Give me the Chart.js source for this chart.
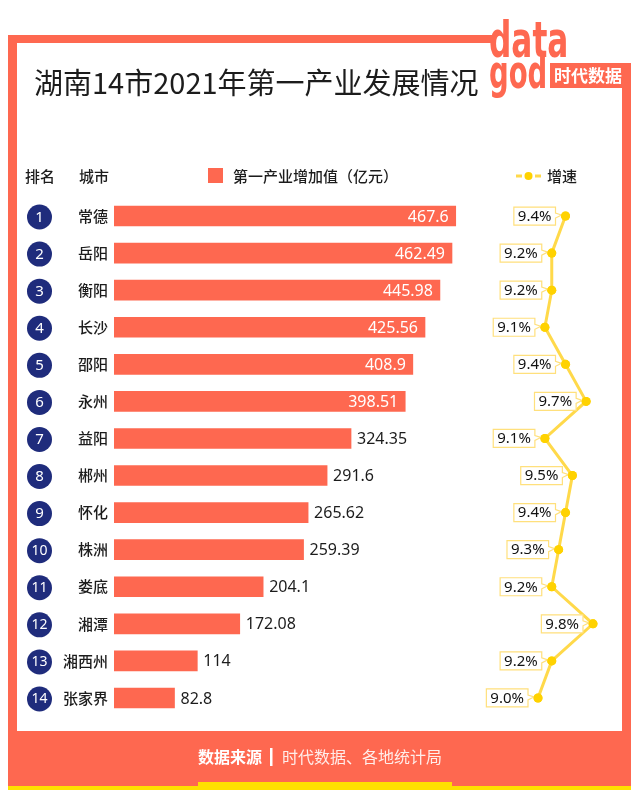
<!DOCTYPE html>
<html>
<head>
<meta charset="utf-8">
<script src="https://cdn.jsdelivr.net/npm/chart.js@4/dist/chart.umd.min.js"></script>
<style>
  html,body{margin:0;padding:0;background:#fff;}
  canvas{display:block;}
</style>
</head>
<body>
<canvas id="c" width="640" height="804"></canvas>
<script>
// ---- data ----
const cities = ['常德','岳阳','衡阳','长沙','邵阳','永州','益阳','郴州','怀化','株洲','娄底','湘潭','湘西州','张家界'];
const ranks = ['1','2','3','4','5','6','7','8','9','10','11','12','13','14'];
const addedValue = [467.6, 462.49, 445.98, 425.56, 408.9, 398.51, 324.35, 291.6, 265.62, 259.39, 204.1, 172.08, 114, 82.8];
const growthRate = [9.4, 9.2, 9.2, 9.1, 9.4, 9.7, 9.1, 9.5, 9.4, 9.3, 9.2, 9.8, 9.2, 9.0];

const titleText = '湖南14市2021年第一产业发展情况';
const legendBar = '第一产业增加值（亿元）';
const legendLine = '增速';
const headRank = '排名';
const headCity = '城市';
const sourceLabel = '数据来源';
const sourceText = '时代数据、各地统计局';

// ---- styles ----
const ORANGE = '#FE6850';
const NAVY = '#1F2C7C';
const YELLOW_LINE = '#FFD94A';
const YELLOW_PT = '#FFD200';
const YELLOW_BOX = '#FFE07C';
const DARK = '#1c1c1c';
const CJK = '"Noto Sans CJK SC","Noto Sans",sans-serif';
const NUM = '"Noto Sans","Open Sans",sans-serif';

const decor = {
  id: 'decor',
  beforeDraw(chart) {
    const ctx = chart.ctx;
    ctx.save();
    ctx.fillStyle = '#fff';
    ctx.fillRect(0, 0, 640, 804);
    // frame
    ctx.fillStyle = ORANGE;
    ctx.fillRect(8, 35, 9, 752);      // left band
    ctx.fillRect(8, 35, 484, 8);      // top band
    ctx.fillRect(622, 63, 9, 724);    // right band
    ctx.fillRect(8, 731, 623, 56);    // footer
    ctx.fillStyle = '#FFE000';
    ctx.fillRect(8, 786, 623, 4);
    ctx.fillRect(198, 782, 254, 8);

    // title
    ctx.fillStyle = DARK;
    ctx.font = '400 29px ' + CJK;
    ctx.textBaseline = 'middle';
    ctx.textAlign = 'left';
    ctx.fillText(titleText, 34, 83);

    // logo
    ctx.fillStyle = ORANGE;
    ctx.font = 'bold 34px "DejaVu Sans Condensed","DejaVu Sans",sans-serif';
    ctx.textBaseline = 'alphabetic';
    ctx.save();
    ctx.translate(489, 57);
    ctx.scale(1.02, 1.45);
    ctx.fillText('data', 0, 0);
    ctx.restore();
    ctx.save();
    ctx.translate(489, 88);
    ctx.scale(0.9, 1.35);
    ctx.fillText('god', 0, 0);
    ctx.restore();
    ctx.fillRect(550, 63, 81, 25);
    ctx.fillStyle = '#fff';
    ctx.font = 'bold 17px ' + CJK;
    ctx.textBaseline = 'middle';
    ctx.textAlign = 'center';
    ctx.fillText('时代数据', 588, 76);

    // header row
    ctx.fillStyle = DARK;
    ctx.font = '500 15px ' + CJK;
    ctx.textAlign = 'left';
    ctx.fillText(headRank, 25, 176);
    ctx.textAlign = 'right';
    ctx.fillText(headCity, 109, 176);
    ctx.textAlign = 'left';
    ctx.fillStyle = ORANGE;
    ctx.fillRect(208, 168, 15, 15);
    ctx.fillStyle = DARK;
    ctx.fillText(legendBar, 233, 176);
    ctx.strokeStyle = YELLOW_LINE;
    ctx.lineWidth = 3;
    ctx.beginPath();
    ctx.moveTo(516, 176); ctx.lineTo(522, 176);
    ctx.moveTo(535, 176); ctx.lineTo(541, 176);
    ctx.stroke();
    ctx.fillStyle = YELLOW_PT;
    ctx.beginPath(); ctx.arc(528.5, 176, 4, 0, Math.PI * 2); ctx.fill();
    ctx.fillStyle = DARK;
    ctx.fillText(legendLine, 547, 176);

    // footer text
    ctx.font = 'bold 16px ' + CJK;
    const w1 = ctx.measureText(sourceLabel).width;
    ctx.font = '400 16px ' + CJK;
    const w2 = ctx.measureText(sourceText).width;
    const gap = 20;
    const total = w1 + gap + w2;
    let x0 = 320 - total / 2;
    ctx.textAlign = 'left';
    ctx.fillStyle = '#fff';
    ctx.font = 'bold 16px ' + CJK;
    ctx.fillText(sourceLabel, x0, 757);
    ctx.fillRect(x0 + w1 + 8, 748, 2.5, 18);
    ctx.fillStyle = 'rgba(255,255,255,0.88)';
    ctx.font = '400 16px ' + CJK;
    ctx.fillText(sourceText, x0 + w1 + gap, 757);
    ctx.restore();
  },
  afterDatasetsDraw(chart) {
    const ctx = chart.ctx;
    ctx.save();
    // bar value labels + rank circles
    const barMeta = chart.getDatasetMeta(0);
    barMeta.data.forEach((bar, i) => {
      const v = addedValue[i];
      ctx.font = '400 16px ' + NUM;
      ctx.textBaseline = 'middle';
      if (v > 350) {
        ctx.fillStyle = '#fff';
        ctx.textAlign = 'right';
        ctx.fillText(String(v), bar.x - 7, bar.y + 1);
      } else {
        ctx.fillStyle = DARK;
        ctx.textAlign = 'left';
        ctx.fillText(String(v), bar.x + 6, bar.y + 1);
      }
      // rank circle
      ctx.fillStyle = NAVY;
      ctx.beginPath();
      ctx.arc(39.5, bar.y + 1, 12.5, 0, Math.PI * 2);
      ctx.fill();
      ctx.fillStyle = '#fff';
      ctx.textAlign = 'center';
      ctx.font = (ranks[i].length > 1 ? '400 14px ' : '400 15px ') + NUM;
      ctx.fillText(ranks[i], 39.5, bar.y + 1.5);
    });
    // growth labels
    const lineMeta = chart.getDatasetMeta(1);
    lineMeta.data.forEach((pt, i) => {
      const txt = growthRate[i].toFixed(1) + '%';
      ctx.font = '400 15px ' + NUM;
      const tw = ctx.measureText(txt).width;
      const bw = tw + 8, bh = 18;
      const right = pt.x - 10;
      const left = right - bw;
      const top = pt.y - bh / 2;
      const bottom = top + bh;
      ctx.fillStyle = '#fff';
      ctx.strokeStyle = YELLOW_BOX;
      ctx.lineWidth = 1.2;
      ctx.beginPath();
      ctx.moveTo(left, top);
      ctx.lineTo(right, top);
      ctx.lineTo(right, pt.y - 3);
      ctx.lineTo(pt.x - 4, pt.y - 1);
      ctx.lineTo(right, pt.y + 2);
      ctx.lineTo(right, bottom);
      ctx.lineTo(left, bottom);
      ctx.closePath();
      ctx.fill();
      ctx.stroke();
      ctx.fillStyle = '#111';
      ctx.textAlign = 'center';
      ctx.textBaseline = 'middle';
      ctx.fillText(txt, left + bw / 2, pt.y + 0.5);
    });
    // redraw points on top
    lineMeta.data.forEach(pt => {
      ctx.fillStyle = YELLOW_PT;
      ctx.beginPath();
      ctx.arc(pt.x, pt.y, 4.5, 0, Math.PI * 2);
      ctx.fill();
    });
    ctx.restore();
  }
};

new Chart(document.getElementById('c'), {
  type: 'bar',
  data: {
    labels: cities,
    datasets: [
      {
        type: 'bar',
        label: legendBar,
        data: addedValue,
        backgroundColor: ORANGE,
        borderWidth: 0,
        barThickness: 20,
        xAxisID: 'x',
        yAxisID: 'y',
        order: 2
      },
      {
        type: 'line',
        label: legendLine,
        data: growthRate,
        indexAxis: 'y',
        xAxisID: 'x2',
        yAxisID: 'y',
        borderColor: YELLOW_LINE,
        borderWidth: 3,
        pointRadius: 4.5,
        pointBackgroundColor: YELLOW_PT,
        pointBorderWidth: 0,
        fill: false,
        tension: 0,
        order: 1
      }
    ]
  },
  options: {
    indexAxis: 'y',
    responsive: false,
    devicePixelRatio: 1,
    animation: false,
    layout: { padding: { left: 0, top: 197.5, right: 30, bottom: 87.5 } },
    plugins: { legend: { display: false }, tooltip: { enabled: false } },
    scales: {
      y: {
        type: 'category',
        position: 'left',
        grid: { display: false, drawTicks: false },
        border: { display: false },
        ticks: { padding: 6, color: DARK, font: { family: CJK, size: 15, weight: '500' } },
        afterFit(scale) { scale.width = 114; }
      },
      x: { type: 'linear', min: 0, max: 678.7, display: false },
      x2: { type: 'linear', min: 2.8327, max: 10.0472, display: false, position: 'top' }
    }
  },
  plugins: [decor]
});
</script>
</body>
</html>
